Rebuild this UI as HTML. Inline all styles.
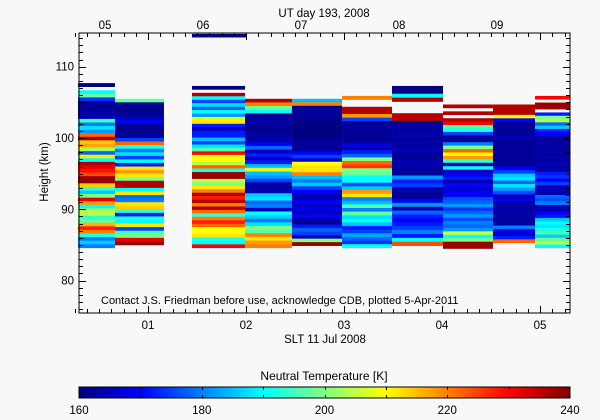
<!DOCTYPE html>
<html><head><meta charset="utf-8">
<style>
html,body{margin:0;padding:0;background:#f8f8f8;}
svg{display:block;font-family:"Liberation Sans",sans-serif;}
</style></head>
<body>
<svg id="chart" width="600" height="420" viewBox="0 0 600 420" xmlns="http://www.w3.org/2000/svg">
<rect x="0" y="0" width="600" height="420" fill="#f8f8f8"/>
<g id="cells"></g>
<g id="axes"></g>
<text x="324" y="17" font-size="11.5" text-anchor="middle" fill="#000">UT day 193, 2008</text>
<text x="325" y="343" font-size="11.5" text-anchor="middle" fill="#000">SLT 11 Jul 2008</text>
<text x="0" y="0" font-size="11.5" text-anchor="middle" fill="#000" transform="translate(48,172) rotate(-90)">Height (km)</text>
<text x="101" y="304" font-size="11" fill="#000">Contact J.S. Friedman before use, acknowledge CDB, plotted 5-Apr-2011</text>
<text x="324" y="380" font-size="12" text-anchor="middle" fill="#000">Neutral Temperature [K]</text>
<defs><linearGradient id="jet" x1="0" x2="1" y1="0" y2="0">
<stop offset="0" stop-color="#000080"/><stop offset="0.125" stop-color="#0000ff"/><stop offset="0.375" stop-color="#00ffff"/><stop offset="0.625" stop-color="#ffff00"/><stop offset="0.875" stop-color="#ff0000"/><stop offset="1" stop-color="#800000"/>
</linearGradient></defs>
<rect x="79" y="387" width="491" height="11" fill="url(#jet)" stroke="#000" stroke-width="1"/>
<g id="cbar"></g>
</svg>
<script>
// ---- data ----
const colStart = [0.286, 0.663, 1.449, 1.990, 2.469, 2.980, 3.490, 4.010, 4.520, 4.949];
const colEnd   = [0.663, 1.163, 1.990, 2.469, 2.980, 3.490, 4.010, 4.520, 4.949, 5.306];
const colTop    = [107.7, 105.5, 107.3, 105.5, 105.5, 105.9, 107.3, 104.7, 104.7, 105.9];
const colBottom = [84.6, 85.0, 84.6, 84.6, 84.9, 84.6, 84.9, 84.5, 85.3, 84.6];
const col1 = [160,null,190,198,174,162,162,162,163,164,195,180,188,182,222,236,214,217,203,178,212,190,236,232,229,224,238,238,214,194,186,200,232,218,190,204,204,194,198,216,228,220,192,180,186,180];
const col2 = [198,162,161,161,162,165,170,162,161,162,162,175,222,192,180,188,175,190,172,212,218,212,200,236,236,190,212,178,180,212,214,194,172,192,190,212,175,195,200,232,238];
const col3 = [160,null,236,190,175,188,178,190,182,208,212,172,165,172,172,185,175,188,196,230,208,210,205,222,192,238,238,205,200,212,220,236,228,236,220,236,222,194,220,228,222,210,210,212,192,190,230];
const col4 = [236,220,198,190,162,162,163,162,161,162,163,163,170,178,165,172,165,172,185,208,185,182,175,163,163,164,186,188,178,180,165,190,186,180,188,200,196,220,212,218,220];
const col5 = [185,220,162,162,162,162,161,160,160,160,160,162,162,162,162,170,175,165,210,212,212,220,185,180,186,175,170,165,163,170,165,168,165,170,163,162,172,178,175,165,200,238];
const col6 = [220,null,null,236,236,218,175,162,162,162,162,162,162,168,163,172,178,200,222,226,200,198,190,190,176,186,218,212,180,185,196,180,198,188,190,185,172,175,183,178,174,190];
const col7 = [160,160,190,236,null,null,null,236,236,162,163,162,164,162,163,162,165,162,162,163,164,162,162,182,172,175,164,162,162,170,182,164,178,172,170,172,175,180,172,190,224];
const col8 = [236,null,236,null,236,230,196,192,175,162,162,180,200,222,210,218,194,164,190,165,170,172,163,170,166,168,170,176,178,182,174,178,182,176,180,178,182,206,190,200,238,238];
const col9 = [236,236,236,210,170,162,162,162,162,164,162,162,162,162,162,162,162,162,170,175,186,188,178,188,182,176,164,168,163,163,163,163,163,162,163,180,170,165,172,222];
const col10 = [230,null,238,238,null,172,200,204,178,186,172,170,164,162,163,162,164,162,163,162,165,162,163,172,174,170,175,165,164,163,178,176,180,165,164,170,172,186,190,188,192,196,186,198,204,190];
const columns = [col1,col2,col3,col4,col5,col6,col7,col8,col9,col10];
const extraStart = [1.449], extraEnd = [2.0], extraTop = [114.6], extraBottom = [114.1], extraValue = [160];
const yTicks = [80, 90, 100, 110];
const sltTicks = [1, 2, 3, 4, 5];
const sltLabels = ["01","02","03","04","05"];
const utLabels = ["05","06","07","08","09"];
const cbTicks = [160, 180, 200, 220, 240];

// ---- scales ----
const X0 = 79, X1 = 570, Y0 = 33, Y1 = 313;
const xS = h => 148 + (h - 1) * 98;
const yS = km => 138 - (km - 100) * 7.13;
const tMin = 160, tMax = 240;
function jet(v){
  let t = Math.max(0, Math.min(1, (v - tMin) / (tMax - tMin)));
  const f = (x) => Math.max(0, Math.min(1, x));
  const r = f(1.5 - Math.abs(4*t - 3)), g = f(1.5 - Math.abs(4*t - 2)), b = f(1.5 - Math.abs(4*t - 1));
  return `rgb(${Math.round(r*255)},${Math.round(g*255)},${Math.round(b*255)})`;
}
const NS = "http://www.w3.org/2000/svg";
function mk(tag, attrs, parent){ const e = document.createElementNS(NS, tag); for (const k in attrs) e.setAttribute(k, attrs[k]); parent.appendChild(e); return e; }

const cells = document.getElementById('cells');
columns.forEach((vals, ci) => {
  const n = vals.length, dk = (colTop[ci] - colBottom[ci]) / n;
  const xa = xS(colStart[ci]), xb = xS(colEnd[ci]);
  vals.forEach((v, i) => {
    if (v === null) return;
    const ka = colTop[ci] - i*dk, kb = ka - dk;
    const r = mk('rect', {x: xa, y: yS(ka), width: xb - xa, height: yS(kb) - yS(ka) + 0.3, fill: jet(v)}, cells);
    
    
  });
});
extraValue.forEach((v, i) => {
  const r = mk('rect', {x: xS(extraStart[i]), y: yS(extraTop[i]), width: xS(extraEnd[i]) - xS(extraStart[i]), height: yS(extraBottom[i]) - yS(extraTop[i]), fill: jet(v)}, cells);
  
  
});

// ---- axes ----
const ax = document.getElementById('axes');
const frame = mk('rect', {x: X0, y: Y0, width: X1 - X0, height: Y1 - Y0, fill: 'none', stroke: '#000', 'stroke-width': 1}, ax);


let d = '';
for (let km = 76; km <= 114; km++) {
  const y = Math.round(yS(km)) + 0.5, L = (km % 10 === 0) ? 7 : 4;
  d += `M${X0},${y}h${L}M${X1},${y}h${-L}`;
}
for (let h = 0.25; h <= 5.3; h += 0.125) {
  const x = Math.round(xS(h)) + 0.5, major = Math.abs(h - Math.round(h)) < 1e-6, L = major ? 7 : 4;
  d += `M${x},${Y1}v${-L}M${x},${Y0}v${L}`;
}
const tk = mk('path', {d: d, stroke: '#000', 'stroke-width': 1, fill: 'none'}, ax);


yTicks.forEach(km => {
  const t = mk('text', {x: 74, y: yS(km) + 4, 'font-size': 11.5, 'text-anchor': 'end'}, ax);
  t.textContent = km;
  
  
});
sltTicks.forEach((h, i) => {
  const t = mk('text', {x: xS(h), y: 329, 'font-size': 11.5, 'text-anchor': 'middle'}, ax);
  t.textContent = sltLabels[i];
  
  
  const u = mk('text', {x: xS(h) - 43, y: 29, 'font-size': 11.5, 'text-anchor': 'middle'}, ax);
  u.textContent = utLabels[i];
  
  
});
const cb = document.getElementById('cbar');
let cd = '';
for (let v = 170; v < 240; v += 10) { const x = Math.round(79 + (v - 160) / 80 * 491) + 0.5; cd += `M${x},387v3M${x},398v-3`; }
const cbp = mk('path', {d: cd, stroke: '#000', 'stroke-width': 1}, cb);


cbTicks.forEach(v => {
  const t = mk('text', {x: 79 + (v - 160) / 80 * 491, y: 414, 'font-size': 11.5, 'text-anchor': 'middle'}, cb);
  t.textContent = v;
  
  
});
</script>
</body></html>
